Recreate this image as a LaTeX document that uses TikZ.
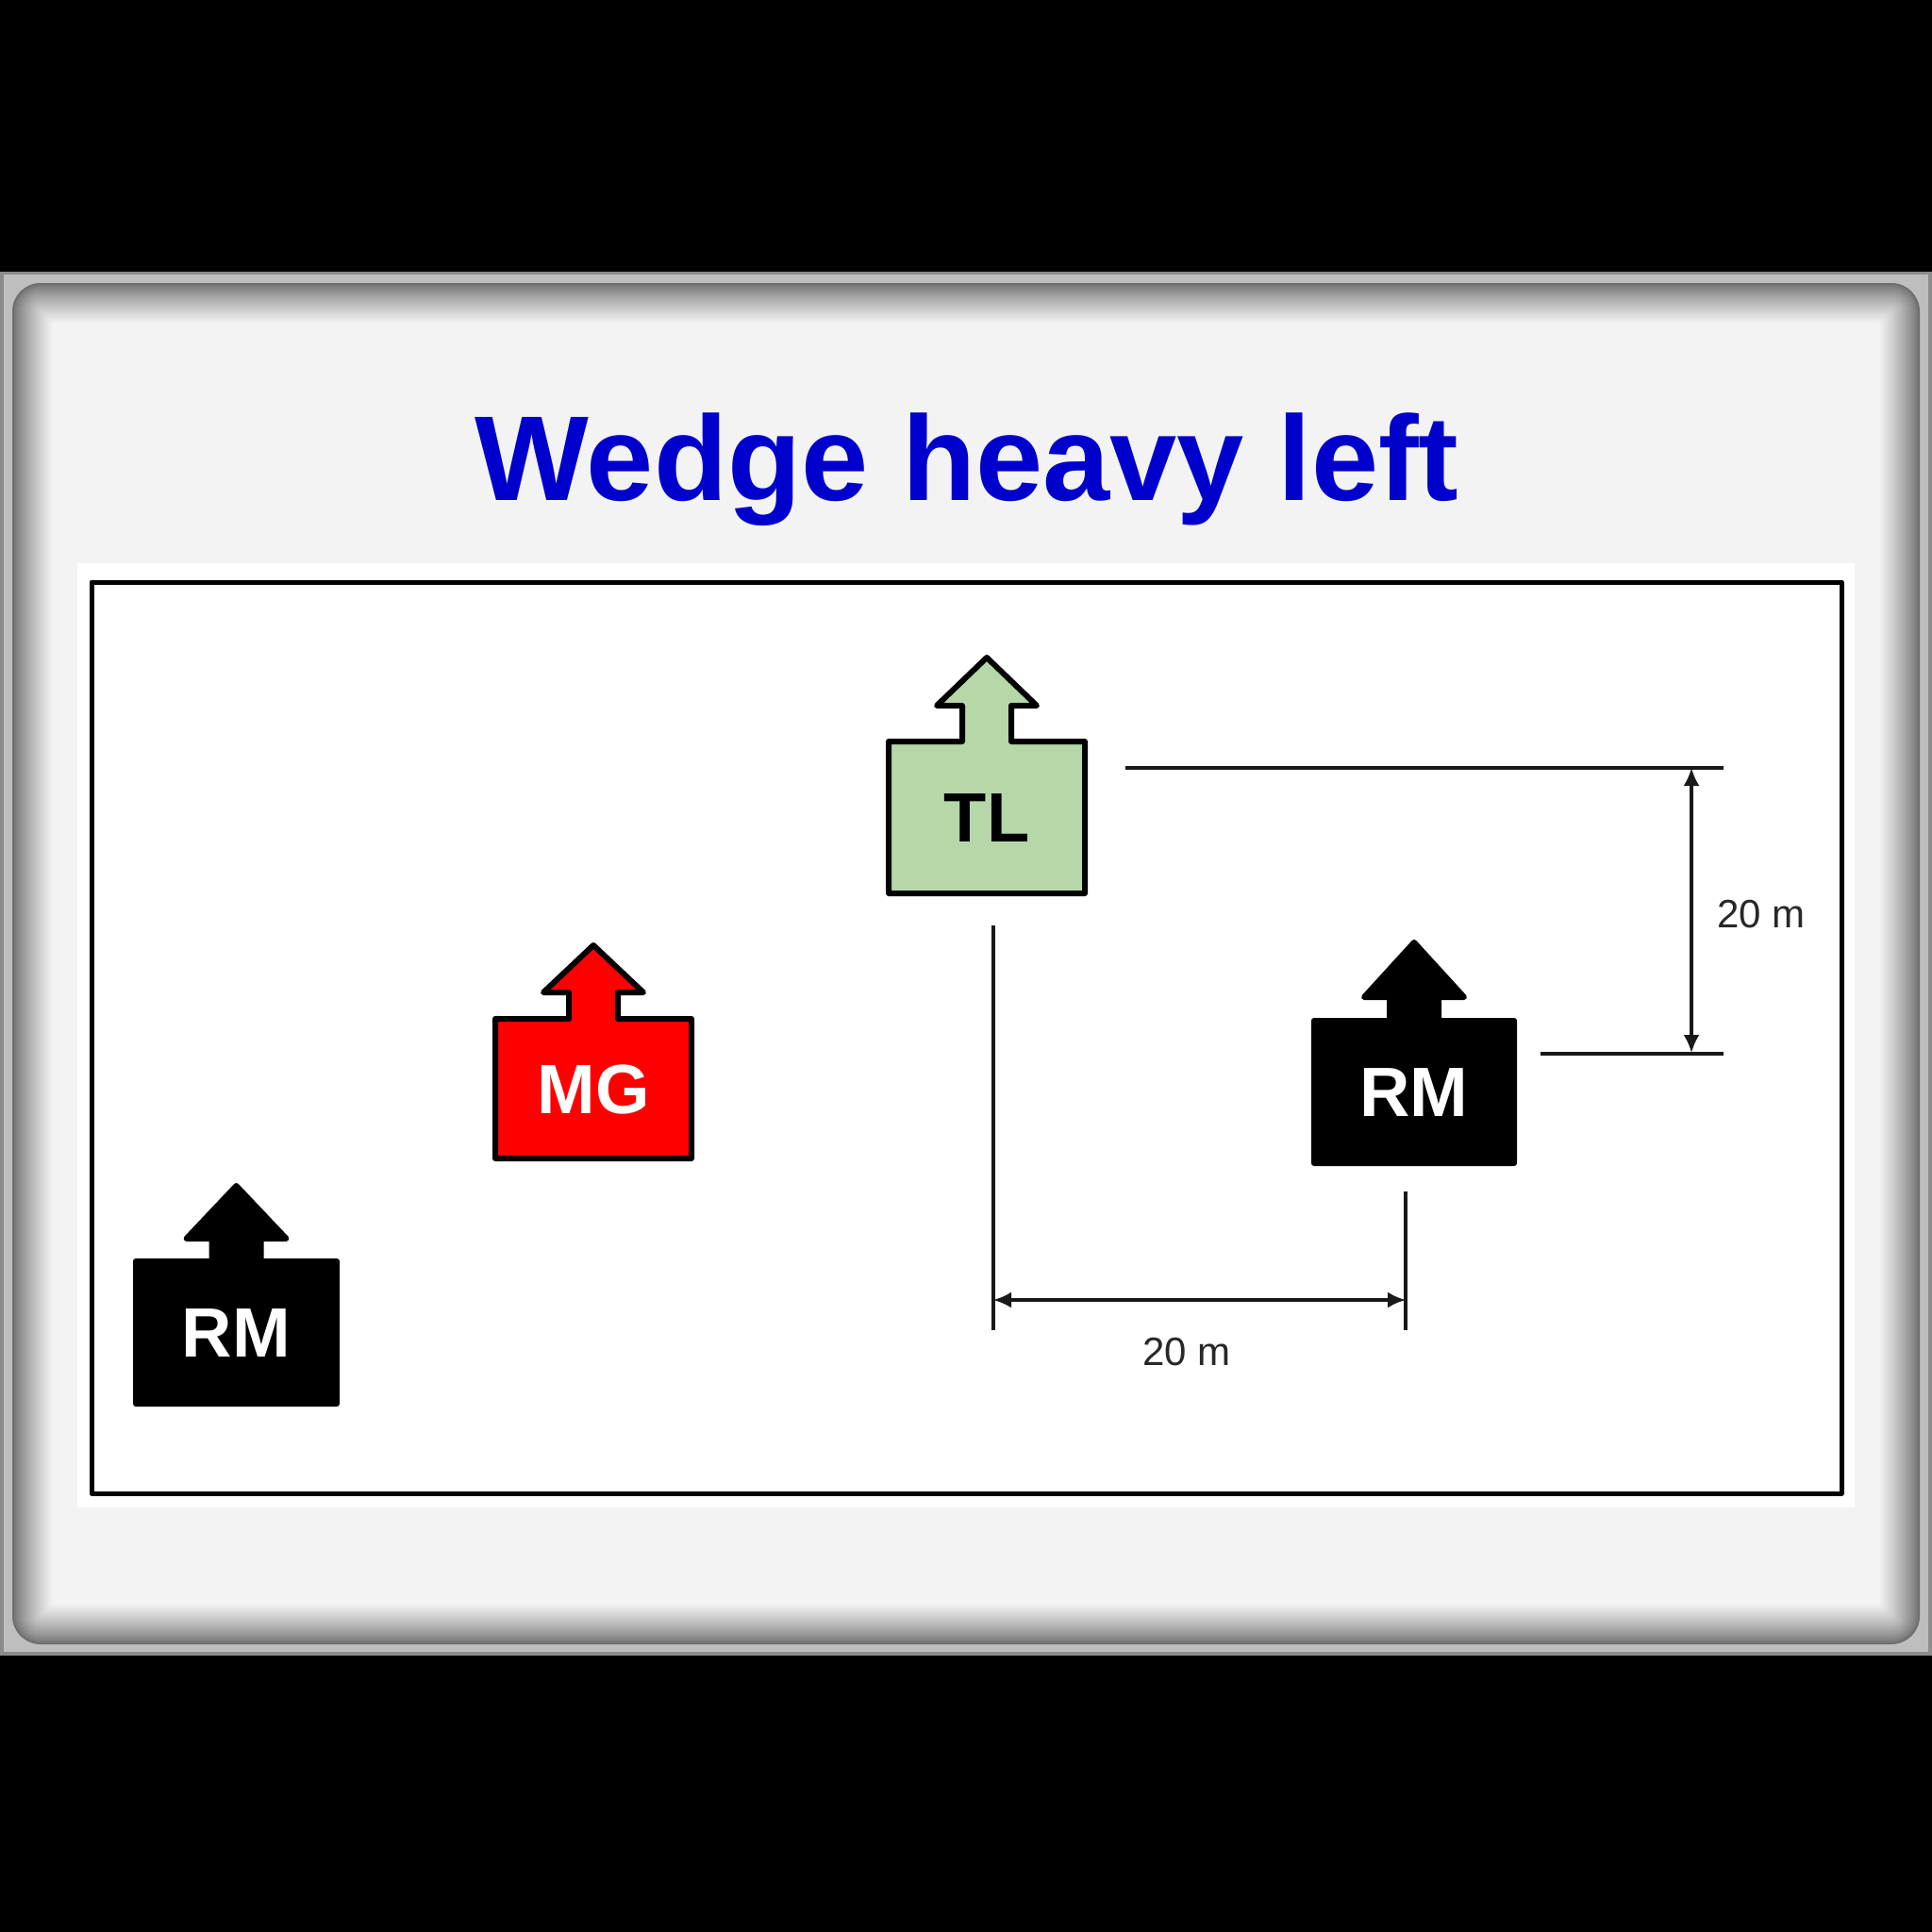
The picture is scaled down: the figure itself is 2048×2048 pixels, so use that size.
\documentclass[tikz,border=0pt]{standalone}
\usepackage{fontspec}
\setmainfont{Liberation Sans}
\usetikzlibrary{arrows.meta}
\definecolor{titleblue}{RGB}{0,0,204}
\definecolor{tlgreen}{RGB}{182,215,168}
\definecolor{mgred}{RGB}{255,0,0}
\definecolor{paneltone}{RGB}{243,243,243}
\definecolor{edgedark}{RGB}{110,110,110}
\definecolor{rimlight}{RGB}{190,190,190}
\definecolor{rimdark}{RGB}{140,140,140}
\definecolor{dimtext}{RGB}{40,40,40}
\newcommand{\soldier}[9]{%
  % #1 name, #2 L, #3 R, #4 T, #5 B, #6 head base y, #7 tip y, #8 fill, #9 label
  \pgfmathsetmacro{\cxx}{(#2+#3)/2}
  \pgfmathsetmacro{\cyy}{(#4+#5)/2+26}
  \draw[unitline, fill=#8] (#2,#4) -- ({\cxx-26},#4) -- ({\cxx-26},#6) -- ({\cxx-53},#6)
     -- (\cxx,#7) coordinate (#1tip) -- ({\cxx+53},#6) -- ({\cxx+26},#6) -- ({\cxx+26},#4)
     -- (#3,#4) coordinate (#1ne) -- (#3,#5) coordinate (#1se) -- (#2,#5) -- cycle;
  \node[unitlabel, anchor=base] (#1) at (\cxx,\cyy) {#9};
}
\tikzset{
  unitline/.style={draw=black, line width=6pt, line join=round},
  unitlabel/.style={font=\fontsize{74}{80}\selectfont\bfseries, inner sep=0pt},
  dimline/.style={line width=3.2pt, draw=black!90},
  dimarrow/.style={dimline, {Latex[length=19pt,width=17pt]}-{Latex[length=19pt,width=17pt]}},
  dimlabel/.style={font=\fontsize{42}{46}\selectfont, text=dimtext, inner sep=0pt, anchor=base},
  titlestyle/.style={font=\fontsize{128}{140}\selectfont\bfseries, text=titleblue, inner sep=0pt, anchor=base}
}
\begin{document}
\begin{tikzpicture}[x=1pt, y=-1pt]
\useasboundingbox (0,0) rectangle (2048,2048);
% background
\fill[black] (0,0) rectangle (2048,2048);
% outer frame rim
\fill[rimdark] (0,288) rectangle (2048,1755);
\fill[rimlight] (4,291) rectangle (2044,1751);
% inner shaded panel
\foreach \i in {0,...,22}{
  \pgfmathsetmacro{\p}{100*(\i/22)^0.8}
  \pgfmathsetmacro{\d}{\i*1.9}
  \pgfmathsetmacro{\r}{max(30-\d,4)}
  \fill[paneltone!\p!edgedark, rounded corners=\r pt] ({13+\d},{300+\d}) rectangle ({2035-\d},{1743-\d});
}
% title
\node[titlestyle] (title) at (1025,530) {Wedge heavy left};
% white panel and field border
\fill[white] (82,597) rectangle (1966,1598);
\draw[line width=5pt, line join=round] (97,617) rectangle (1952,1583);
% units
\soldier{tl}{942}{1150}{786}{947}{748}{697}{tlgreen}{TL}
\soldier{mg}{525}{733}{1080}{1228}{1052}{1002}{mgred}{\color{white}MG}
\soldier{rmr}{1393}{1605}{1082}{1233}{1057}{999}{black}{\color{white}RM}
\soldier{rml}{144}{357}{1337}{1488}{1313}{1257}{black}{\color{white}RM}
% dimension coordinates
\coordinate (tlref) at (1193,814);
\coordinate (tlrefend) at (1827,814);
\coordinate (rmref) at (1633,1117);
\coordinate (rmrefend) at (1827,1117);
\coordinate (vtop) at (1793,814);
\coordinate (vbot) at (1793,1116);
\coordinate (tldown) at (1053,981);
\coordinate (tldownend) at (1053,1410);
\coordinate (rmdown) at (1490,1263);
\coordinate (rmdownend) at (1490,1410);
\coordinate (hleft) at (1053,1378);
\coordinate (hright) at (1490,1378);
% extension lines
\draw[dimline] (tlref) -- (tlrefend);
\draw[dimline] (rmref) -- (rmrefend);
\draw[dimline] (tldown) -- (tldownend);
\draw[dimline] (rmdown) -- (rmdownend);
% dimension arrows
\draw[dimarrow] (vtop) -- (vbot);
\draw[dimarrow] (hleft) -- (hright);
\node[dimlabel] (vlabel) at (1867,983) {20 m};
\node[dimlabel] (hlabel) at (1258,1447) {20 m};
\end{tikzpicture}
\end{document}
